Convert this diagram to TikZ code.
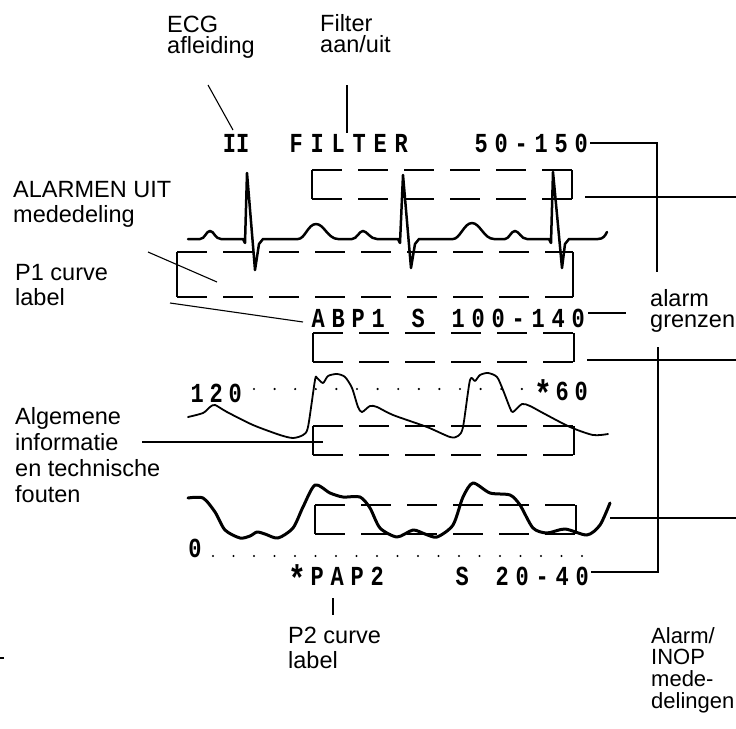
\documentclass[tikz,border=0pt]{standalone}
\usepackage{fontspec}
\usepackage{graphicx}
\setmainfont{Liberation Sans}
\newfontfamily\scrfont{Liberation Mono}[FakeStretch=0.8]
\makeatletter
\newlength\scrcell
\newcommand\scr[2][20pt]{\setlength\scrcell{#1}\@tfor\scrtok:=#2\do{\makebox[\scrcell][c]{\scrtok}}}
\makeatother
\newcommand\scrast{\raisebox{-6.5pt}{\scalebox{1.35}{*}}}
\newcommand\noskiplim{\lineskiplimit=-30pt\relax}
\newcommand\scrbox[4]{%
  \draw[boxedge] (#1,#2)--(#1,#4);
  \draw[boxedge] (#3,#2)--(#3,#4);
  \draw[boxdash] (#1,#2)--(#3,#2);
  \draw[boxdash] (#1,#4)--(#3,#4);}
\begin{document}
\begin{tikzpicture}[x=1pt,y=-1pt,
  conn/.style={line width=1.1pt},
  boxedge/.style={line width=1.4pt},
  boxdash/.style={line width=1.4pt, dash pattern=on 30pt off 16pt},
  ecgline/.style={line width=2.5pt, line join=round, line cap=round},
  abpline/.style={line width=1.8pt, line join=round, line cap=round},
  papline/.style={line width=3pt, line join=round, line cap=round},
  scrtxt/.style={font={\scrfont\bfseries\fontsize{27.5}{27.5}\selectfont}, anchor=base west, inner sep=0pt},
  lbl/.style={anchor=north west, inner sep=0pt, align=left},
  lbl21/.style={lbl, font={\fontsize{23.5}{21.5}\selectfont\noskiplim}},
  lbl22/.style={lbl, font={\fontsize{22}{21.7}\selectfont\noskiplim}},
  lbl25/.style={lbl, font={\fontsize{23.5}{25}\selectfont\noskiplim}},
  lbl26/.style={lbl, font={\fontsize{23.5}{26}\selectfont\noskiplim}}
]
\useasboundingbox (0,0) rectangle (736,728);

% ---------- labels ----------
\node[lbl21] (ecglbl) at (167,14) {\rule{0pt}{18pt}ECG\\afleiding};
\node[lbl21] (filtlbl) at (320,13) {\rule{0pt}{18pt}Filter\\aan/uit};
\node[lbl25] (alarmuit) at (13,179) {\rule{0pt}{18pt}ALARMEN UIT\\mededeling};
\node[lbl25] (p1lbl) at (15,262) {\rule{0pt}{18pt}P1 curve\\label};
\node[lbl26] (alglbl) at (15,406) {\rule{0pt}{18pt}Algemene\\informatie\\en technische\\fouten};
\node[lbl21] (grenzen) at (650,288) {\rule{0pt}{18pt}alarm\\grenzen};
\node[lbl25] (p2lbl) at (288,625) {\rule{0pt}{18pt}P2 curve\\label};
\node[lbl22] (inop) at (651,625) {\rule{0pt}{18pt}Alarm/\\INOP\\mede-\\delingen};

% ---------- screen texts ----------
\node[scrtxt, anchor=base] (lead) at (236,152) {II};
\node[scrtxt] (filter) at (285.5,152) {\scr[21pt]{FILTER}};
\node[scrtxt] (lim1) at (471,152) {\scr{50-150}};
\node[scrtxt] (abp) at (308,327) {\scr{ABP1~S~100-140}};
\node[scrtxt] (s120) at (187.5,402) {\scr[19pt]{120}};
\node[scrtxt] (s60) at (533.5,400) {\scr[19pt]{\scrast60}};
\node[scrtxt, anchor=base] (s0) at (195,557) {0};
\node[scrtxt] (pap) at (287,585) {\scr{\scrast PAP2}};
\node[scrtxt] (lim2) at (452,585) {\scr{S~20-40}};

% ---------- dotted scale lines ----------
\foreach \i in {0,...,13} \fill (254+20.6*\i,389) circle (1.2pt);
\foreach \i in {0,...,18} \fill (213+20.5*\i,556) circle (1.2pt);

% ---------- dashed message boxes ----------
\scrbox{312}{170}{572}{199}
\scrbox{177}{252}{573}{297}
\scrbox{313}{333}{574}{362}
\scrbox{313}{426}{574}{455}
\scrbox{315}{505}{576}{534}

% ---------- ECG ----------
\draw[ecgline] (188,239) -- (200,239)
  .. controls (205,239) and (206,231) .. (210,231)
  .. controls (214,231) and (215,239) .. (221,239)
  -- (243,239) -- (245,243) -- (247,173) -- (255,270) -- (259,244) -- (263,239)
  -- (298,239)
  .. controls (305,239) and (308,224) .. (316,224)
  .. controls (324,224) and (328,239) .. (338,239)
  -- (352,239)
  .. controls (357,239) and (359,231) .. (363,231)
  .. controls (367,231) and (370,239) .. (377,239)
  -- (398,239) -- (400,243) -- (403,175) -- (411,268) -- (415,244) -- (419,239)
  -- (453,239)
  .. controls (460,239) and (464,223) .. (472,223)
  .. controls (480,223) and (484,239) .. (494,239)
  -- (505,239)
  .. controls (509,239) and (511,231) .. (515,231)
  .. controls (519,231) and (521,239) .. (527,239)
  -- (549,239) -- (551,243) -- (553,172) -- (562,268) -- (565,244) -- (569,239)
  -- (598,239) .. controls (603,239) and (605,236) .. (607,232);

% ---------- ABP ----------
\draw[abpline] plot[smooth, tension=0.45] coordinates {
  (188,417) (203,413) (210,407) (215,405) (227,412) (253,425) (280,435) (293,438)
  (303,435) (308,427) (315,380) (317,378) (323,383) (328,376) (337,374) (345,377)
  (352,388) (358,407) (362,412) (370,406) (377,407) (393,415) (427,427) (450,437)
  (458,436) (463,427) (470,380) (475,381) (480,375) (488,373) (497,377) (503,390)
  (510,408) (513,412) (522,404) (530,406) (543,413) (570,427) (593,435) (608,434)};

% ---------- PAP ----------
\draw[papline] plot[smooth, tension=0.45] coordinates {
  (188,498) (203,498) (215,512) (225,530) (240,538) (250,536) (257,532) (265,534)
  (278,538) (293,528) (303,507) (315,485) (330,493) (343,497) (360,497) (370,508)
  (380,528) (397,537) (413,530) (425,534) (437,537) (453,525) (463,497) (473,483)
  (490,493) (510,495) (520,505) (533,528) (547,533) (565,529) (587,535) (600,525)
  (610,503)};

% ---------- connectors ----------
\coordinate (c1a) at (208,85);  \coordinate (c1b) at (233,130);
\draw[conn] (c1a) -- (c1b);
\coordinate (c2a) at (347,85);  \coordinate (c2b) at (347,133);
\draw[conn] (c2a) -- (c2b);
\coordinate (c3a) at (590,143); \coordinate (c3b) at (657,143); \coordinate (c3c) at (657,272);
\draw[conn] (c3a) -- (c3b) -- (c3c);
\coordinate (c4a) at (588,313); \coordinate (c4b) at (626,313);
\draw[conn] (c4a) -- (c4b);
\coordinate (c5a) at (658,347); \coordinate (c5b) at (658,572); \coordinate (c5c) at (591,572);
\draw[conn] (c5a) -- (c5b) -- (c5c);
\coordinate (r1a) at (585,197); \coordinate (r1b) at (736,197);
\draw[conn] (r1a) -- (r1b);
\coordinate (r2a) at (587,360); \coordinate (r2b) at (736,360);
\draw[conn] (r2a) -- (r2b);
\coordinate (r3a) at (610,518); \coordinate (r3b) at (736,518);
\draw[conn] (r3a) -- (r3b);
\coordinate (c6a) at (148,252); \coordinate (c6b) at (217,282);
\draw[conn] (c6a) -- (c6b);
\coordinate (c7a) at (170,303); \coordinate (c7b) at (303,322);
\draw[conn] (c7a) -- (c7b);
\coordinate (c8a) at (142,442); \coordinate (c8b) at (323,442);
\draw[conn] (c8a) -- (c8b);
\coordinate (c9a) at (333,598); \coordinate (c9b) at (333,615);
\draw[conn] (c9a) -- (c9b);
\coordinate (c10a) at (0,658); \coordinate (c10b) at (4,658);
\draw[line width=2pt] (c10a) -- (c10b);
\end{tikzpicture}
\end{document}
